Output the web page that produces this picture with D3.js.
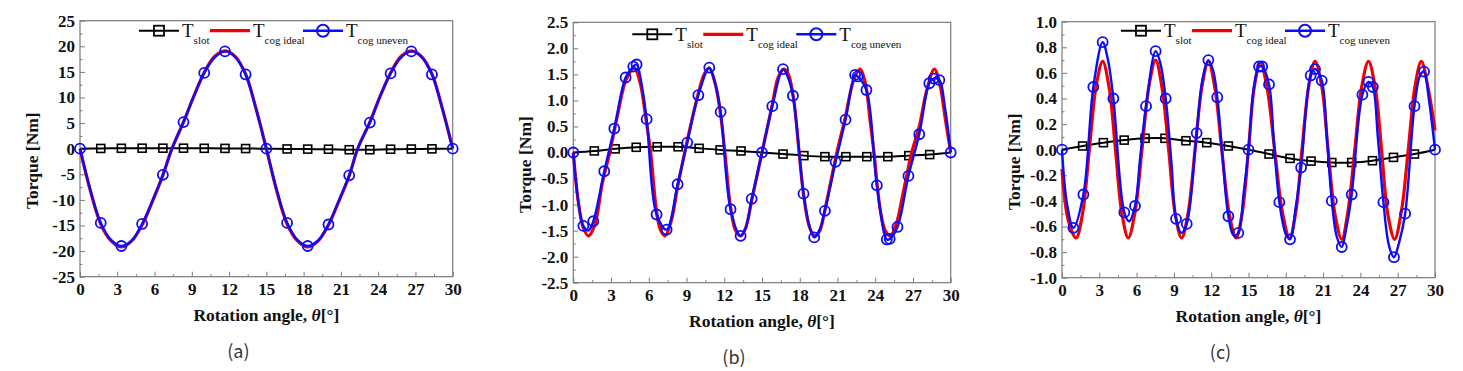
<!DOCTYPE html>
<meta charset="utf-8">
<style>
  body { margin: 0; background: #fff; }
</style>
<body>
<svg width="1463" height="371" font-family="Liberation Serif, Times New Roman, serif"></svg>
<script src="https://d3js.org/d3.v7.min.js"></script>
<script>

// shared x axis
var xTicks = [0, 3, 6, 9, 12, 15, 18, 21, 24, 27, 30];
var xMinor = [1.5, 4.5, 7.5, 10.5, 13.5, 16.5, 19.5, 22.5, 25.5, 28.5];

// ---- panel (a) ----
var aYTicks = [-25, -20, -15, -10, -5, 0, 5, 10, 15, 20, 25];
var aYMinor = [-22.5, -17.5, -12.5, -7.5, -2.5, 2.5, 7.5, 12.5, 17.5, 22.5];
var aSlot = [[0,0],[1.67,0.05],[3.33,0.08],[5,0.1],[6.67,0.1],[8.33,0.1],[10,0.08],[11.67,0.06],[13.33,0.03],[15,0],
             [16.67,-0.05],[18.33,-0.08],[20,-0.1],[21.67,-0.2],[23.33,-0.2],[25,-0.1],[26.67,-0.06],[28.33,-0.03],[30,0]];
var aIdeal = [[0,0],[0.83,-8.2],[1.67,-14.7],[2.5,-18],[3.33,-19.2],[4.17,-18],[5,-14.9],[5.83,-10.3],[6.67,-5.2],[7.4,0],
              [8.33,5.2],[9.17,10.3],[10,14.9],[10.83,18],[11.67,19.1],[12.5,18],[13.33,14.6],[14.17,7.8],[15,0],
              [15.83,-8.2],[16.67,-14.7],[17.5,-18],[18.33,-19.2],[19.17,-18],[20,-14.9],[20.83,-10.3],[21.67,-5.3],[22.35,0],
              [23.33,5.2],[24.17,10.3],[25,14.8],[25.83,18],[26.67,19.1],[27.5,18],[28.33,14.6],[29.17,7.8],[30,0]];
var aUnevenMarks = [[0,0],[1.67,-14.5],[3.33,-19],[5,-14.7],[6.67,-5.1],[8.33,5.2],[10,14.8],[11.67,19],[13.33,14.5],[15,0],
                    [16.67,-14.5],[18.33,-19],[20,-14.8],[21.67,-5.2],[23.33,5.1],[25,14.7],[26.67,19],[28.33,14.5],[30,0]];
var aUnevenExtra = [[0.83,-8],[2.5,-17.8],[4.17,-17.9],[5.83,-10.2],[7.4,0],[9.17,10.3],[10.83,17.8],[12.5,17.9],[14.17,7.8],
                    [15.83,-8],[17.5,-17.8],[19.17,-17.9],[20.83,-10.2],[22.35,0],[24.17,10.3],[25.83,17.8],[27.5,17.9],[29.17,7.8]];

// ---- panel (b) ----
var bYTicks = [-2.5, -2.0, -1.5, -1.0, -0.5, 0, 0.5, 1.0, 1.5, 2.0, 2.5];
var bYMinor = [-2.25, -1.75, -1.25, -0.75, -0.25, 0.25, 0.75, 1.25, 1.75, 2.25];
var bSlot = [[0,0],[1.67,0.03],[3.33,0.07],[5,0.1],[6.67,0.11],[8.33,0.11],[10,0.08],[11.67,0.05],[13.33,0.03],[15,0],
             [16.67,-0.03],[18.33,-0.06],[20,-0.08],[21.67,-0.08],[23.33,-0.08],[25,-0.08],[26.67,-0.06],[28.33,-0.04],[30,0]];
var bIdeal = [[0,0],[0.4,-0.95],[0.8,-1.45],[1.2,-1.6],[1.7,-1.4],[2.3,-0.6],[2.9,0],[3.5,0.7],[4.2,1.4],[4.85,1.62],
              [5.3,1.35],[5.8,0.6],[6.15,0],[6.6,-1.1],[6.95,-1.5],[7.3,-1.6],[7.8,-1.3],[8.3,-0.65],[8.85,0],[9.4,0.6],
              [9.95,1.15],[10.4,1.5],[10.8,1.62],[11.3,1.3],[11.7,0.75],[12.05,0],[12.5,-1.05],[12.9,-1.5],[13.3,-1.6],
              [13.7,-1.45],[14.2,-0.9],[15,0],[15.8,0.9],[16.3,1.45],[16.75,1.6],[17.1,1.5],[17.5,1.05],[17.95,0],
              [18.3,-0.8],[18.8,-1.45],[19.2,-1.6],[19.6,-1.5],[20,-1.1],[20.95,0],[21.6,0.65],[22.3,1.4],[22.8,1.6],
              [23.2,1.35],[23.6,0.6],[23.9,0],[24.4,-1.1],[24.8,-1.5],[25.2,-1.6],[25.7,-1.35],[26.2,-0.8],[26.9,0],
              [27.5,0.5],[28.1,1.2],[28.7,1.6],[29.1,1.35],[29.6,0.6],[30,0]];
var bUnevenMarks = [[0,0],[0.8,-1.41],[1.59,-1.32],[2.46,-0.36],[3.26,0.46],[4.16,1.44],[4.77,1.65],[5.03,1.69],[5.83,0.64],
                    [6.62,-1.19],[7.42,-1.48],[8.29,-0.61],[9.06,0.19],[9.94,1.1],[10.81,1.63],[11.71,0.78],[12.5,-1.09],
                    [13.3,-1.6],[14.18,-0.89],[15,0],[15.82,0.89],[16.67,1.6],[17.46,1.09],[18.3,-0.79],[19.15,-1.63],
                    [20,-1.12],[20.85,-0.18],[21.64,0.63],[22.4,1.49],[22.6,1.46],[23.3,1.2],[24.13,-0.63],[24.92,-1.67],
                    [25.15,-1.66],[25.77,-1.43],[26.64,-0.45],[27.5,0.35],[28.3,1.33],[28.65,1.42],[29.1,1.39],[30,0]];
var bUnevenExtra = [[0.4,-0.95],[1.2,-1.5],[5.4,1.35],[11.2,1.4],[13.7,-1.45],[17.05,1.45],[18.75,-1.4],[19.55,-1.5],[29.55,0.85]];

// ---- panel (c) ----
var cYTicks = [-1.0, -0.8, -0.6, -0.4, -0.2, 0, 0.2, 0.4, 0.6, 0.8, 1.0];
var cYMinor = [-0.9, -0.7, -0.5, -0.3, -0.1, 0.1, 0.3, 0.5, 0.7, 0.9];
var cSlot = [[0,0],[1.66,0.029],[3.33,0.055],[5,0.075],[6.68,0.089],[8.28,0.089],[9.97,0.07],[11.64,0.055],[13.38,0.029],[15,0],
             [16.65,-0.034],[18.34,-0.068],[20.03,-0.089],[21.7,-0.1],[23.3,-0.1],[24.97,-0.086],[26.66,-0.06],[28.35,-0.034],[30,0]];
var cIdeal = [[0,-0.15],[0.5,-0.55],[1.13,-0.69],[1.65,-0.5],[2.2,0],[2.75,0.5],[3.27,0.69],[3.8,0.48],[4.3,0],[4.82,-0.5],
              [5.33,-0.69],[5.87,-0.49],[6.43,0],[7,0.5],[7.53,0.7],[8.05,0.48],[8.58,0],[9.1,-0.5],[9.62,-0.69],[10.15,-0.49],
              [10.7,0],[11.25,0.49],[11.77,0.69],[12.3,0.48],[12.85,0],[13.45,-0.5],[14,-0.69],[14.5,-0.49],[15,0],[15.45,0.48],
              [15.95,0.68],[16.5,0.48],[17.1,0],[17.75,-0.5],[18.3,-0.69],[18.8,-0.49],[19.3,0],[19.85,0.5],[20.35,0.69],
              [20.9,0.49],[21.4,0],[21.95,-0.5],[22.5,-0.7],[23,-0.48],[23.55,0],[24.1,0.49],[24.65,0.69],[25.2,0.48],
              [25.7,0],[26.2,-0.5],[26.75,-0.7],[27.3,-0.48],[27.85,0],[28.4,0.5],[28.9,0.69],[29.45,0.48],[30,0.15]];
var cUnevenMarks = [[0,0],[0.91,-0.61],[1.72,-0.35],[2.52,0.49],[3.27,0.84],[4.13,0.4],[5.01,-0.49],[5.87,-0.44],[6.76,0.34],
                    [7.53,0.77],[8.34,0.4],[9.17,-0.54],[10.03,-0.58],[10.83,0.13],[11.77,0.7],[12.49,0.41],[13.38,-0.52],
                    [14.18,-0.65],[15,0],[15.85,0.65],[16.1,0.65],[16.65,0.51],[17.48,-0.41],[18.34,-0.7],[19.23,-0.14],
                    [20,0.58],[20.35,0.63],[20.89,0.54],[21.7,-0.4],[22.5,-0.76],[23.3,-0.35],[24.16,0.43],[24.65,0.53],
                    [25,0.49],[25.85,-0.41],[26.7,-0.84],[27.6,-0.5],[28.35,0.34],[29.12,0.61],[30,0]];
var cUnevenExtra = [[0.4,-0.42],[3.7,0.7],[5.4,-0.56],[6.3,-0.05],[7.9,0.68],[8.8,-0.1],[9.6,-0.65],[11.3,0.55],[12.15,0.62],
                    [12.95,-0.1],[13.8,-0.67],[14.6,-0.35],[15.45,0.5],[17.05,0.05],[18,-0.66],[18.8,-0.45],[21.3,0.1],
                    [22.1,-0.68],[22.85,-0.62],[25.4,0.1],[26.3,-0.75],[27.1,-0.73],[28.8,0.58],[29.5,0.4]];

var legendNames = [["T", "slot"], ["T", "cog ideal"], ["T", "cog uneven"]];

var panels = [
  {caption: "(a)", left: 80, right: 452.7, top: 20.7, bottom: 276.7, yDomain: [-25, 25], yTicks: aYTicks, yMinor: aYMinor,
   fmt: d3.format("d"), slot: aSlot, ideal: aIdeal, marks: aUnevenMarks, extra: aUnevenExtra, legDy: 10},
  {caption: "(b)", left: 573.3, right: 950.7, top: 22.3, bottom: 282.7, yDomain: [-2.5, 2.5], yTicks: bYTicks, yMinor: bYMinor,
   fmt: d3.format(".1f"), slot: bSlot, ideal: bIdeal, marks: bUnevenMarks, extra: bUnevenExtra, legDy: 12},
  {caption: "(c)", left: 1062, right: 1435, top: 21.7, bottom: 277.7, yDomain: [-1, 1], yTicks: cYTicks, yMinor: cYMinor,
   fmt: d3.format(".1f"), slot: cSlot, ideal: cIdeal, marks: cUnevenMarks, extra: cUnevenExtra, legDy: 9}
];

var svg = d3.select("svg");
svg.append("rect").attr("width", 1463).attr("height", 371).attr("fill", "#fff");

var RED = "#f00000", BLUE = "#0b0bff", FRAME = "#7a7a7a";
var SERIF = "Liberation Serif, Times New Roman, serif";

panels.forEach(drawPanel);

function drawPanel(p) {
  var x = d3.scaleLinear().domain([0, 30]).range([p.left, p.right]);
  var y = d3.scaleLinear().domain(p.yDomain).range([p.bottom, p.top]);
  var g = svg.append("g");
  var fmt = function(d) { return p.fmt(d).replace("\u2212", "-"); };

  // minor ticks
  g.append("g").attr("transform", "translate(0," + p.bottom + ")")
    .call(d3.axisBottom(x).tickValues(xMinor).tickSize(-2.5).tickFormat(""));
  g.append("g").attr("transform", "translate(" + p.left + ",0)")
    .call(d3.axisLeft(y).tickValues(p.yMinor).tickSize(-2.5).tickFormat(""));

  // major ticks + labels
  g.append("g").attr("transform", "translate(0," + p.bottom + ")")
    .call(d3.axisBottom(x).tickValues(xTicks).tickSize(-5).tickPadding(6).tickFormat(d3.format("d")));
  g.append("g").attr("transform", "translate(" + p.left + ",0)")
    .call(d3.axisLeft(y).tickValues(p.yTicks).tickSize(-5).tickPadding(5).tickFormat(fmt));

  g.selectAll(".domain").remove();
  g.selectAll(".tick line").attr("stroke", FRAME);
  g.selectAll(".tick text")
    .attr("font-family", SERIF)
    .attr("font-weight", "bold").attr("font-size", 17).attr("fill", "#111");

  g.append("rect")
    .attr("x", p.left).attr("y", p.top)
    .attr("width", p.right - p.left).attr("height", p.bottom - p.top)
    .attr("fill", "none").attr("stroke", FRAME).attr("stroke-width", 1.2);

  // axis titles
  var yc = (p.top + p.bottom) / 2 + 12;
  g.append("text")
    .attr("transform", "translate(" + (p.left - 48) + "," + yc + ") rotate(-90)")
    .attr("text-anchor", "middle").attr("dy", "0.35em")
    .attr("font-family", SERIF)
    .attr("font-weight", "bold").attr("font-size", 17.5).attr("fill", "#111")
    .text("Torque [Nm]");
  var xt = g.append("text")
    .attr("x", (p.left + p.right) / 2).attr("y", p.bottom + 44)
    .attr("text-anchor", "middle").attr("font-family", SERIF)
    .attr("font-weight", "bold").attr("font-size", 17.5).attr("fill", "#111");
  xt.append("tspan").text("Rotation angle, ");
  xt.append("tspan").attr("font-style", "italic").text("\u03B8");
  xt.append("tspan").text("[\u00B0]");

  g.append("text")
    .attr("x", (p.left + p.right) / 2 - 28).attr("y", p.bottom + 81)
    .attr("text-anchor", "middle")
    .attr("font-family", "Noto Sans CJK KR, DejaVu Sans, sans-serif")
    .attr("font-size", 18).attr("fill", "#333")
    .text(p.caption);

  var line = d3.line()
    .x(function(d) { return x(d[0]); })
    .y(function(d) { return y(d[1]); })
    .curve(d3.curveCatmullRom.alpha(0.5));

  // T slot
  g.append("path").datum(p.slot).attr("d", line)
    .attr("fill", "none").attr("stroke", "#000").attr("stroke-width", 2);
  g.selectAll(".sq").data(p.slot.filter(function(d, i) { return i % 9 !== 0; }))
    .enter().append("rect")
    .attr("x", function(d) { return x(d[0]) - 4; })
    .attr("y", function(d) { return y(d[1]) - 4; })
    .attr("width", 8).attr("height", 8)
    .attr("fill", "none").attr("stroke", "#000").attr("stroke-width", 1.6);

  // T cog ideal
  g.append("path").datum(p.ideal).attr("d", line)
    .attr("fill", "none").attr("stroke", RED).attr("stroke-width", 3.2);

  // T cog uneven
  var uneven = p.marks.concat(p.extra).sort(function(a, b) { return a[0] - b[0]; });
  g.append("path").datum(uneven).attr("d", line)
    .attr("fill", "none").attr("stroke", BLUE).attr("stroke-width", 2.4);
  g.selectAll(".ci").data(p.marks)
    .enter().append("circle")
    .attr("cx", function(d) { return x(d[0]); })
    .attr("cy", function(d) { return y(d[1]); })
    .attr("r", 5)
    .attr("fill", "none").attr("stroke", BLUE).attr("stroke-width", 1.8);

  // legend
  var lx = p.left + 59, ly = p.top + p.legDy;
  var offs = [0, 71, 164];
  var cols = ["#000", RED, BLUE];
  var widths = [2, 3.2, 2.4];
  legendNames.forEach(function(n, i) {
    var sx = lx + offs[i];
    g.append("line").attr("x1", sx).attr("x2", sx + 40).attr("y1", ly).attr("y2", ly)
      .attr("stroke", cols[i]).attr("stroke-width", widths[i]);
    if (i === 0) {
      g.append("rect").attr("x", sx + 15).attr("y", ly - 5).attr("width", 10).attr("height", 10)
        .attr("fill", "none").attr("stroke", "#000").attr("stroke-width", 1.8);
    }
    if (i === 2) {
      g.append("circle").attr("cx", sx + 20).attr("cy", ly).attr("r", 6)
        .attr("fill", "none").attr("stroke", BLUE).attr("stroke-width", 2);
    }
    var t = g.append("text").attr("x", sx + 43).attr("y", ly + 6.5)
      .attr("font-family", SERIF).attr("font-size", 19).attr("fill", "#111");
    t.append("tspan").text(n[0]);
    t.append("tspan").attr("dy", 7).attr("font-size", 11).text(n[1]);
  });
}

</script>
</body>
